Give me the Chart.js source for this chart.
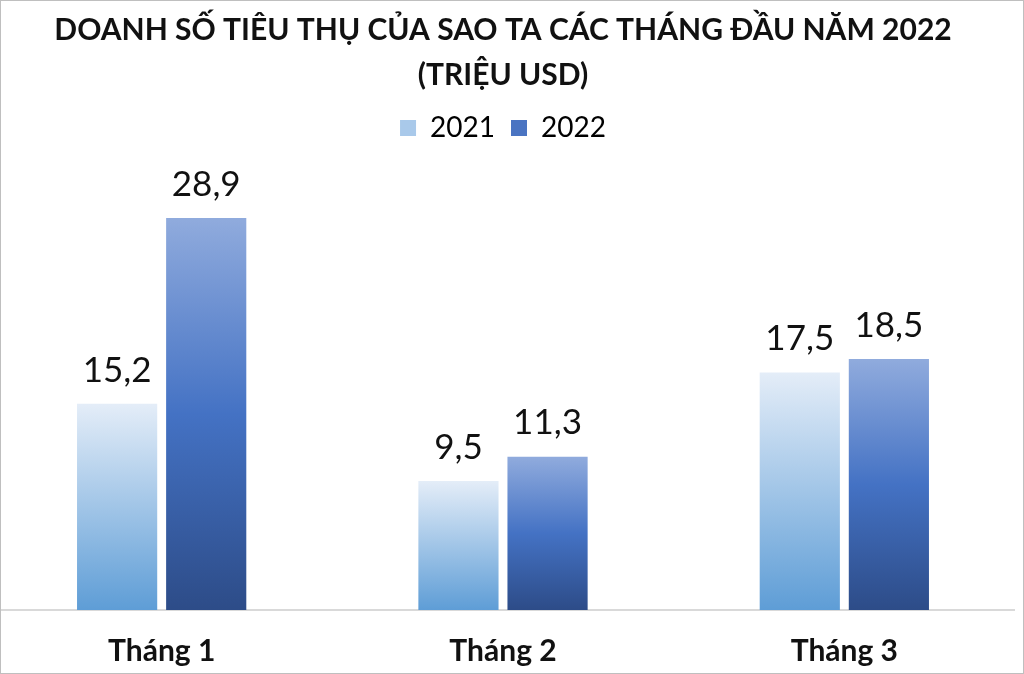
<!DOCTYPE html>
<html>
<head>
<meta charset="utf-8">
<script src="https://cdn.jsdelivr.net/npm/chart.js@4/dist/chart.umd.min.js"></script>
<style>
  html, body { margin: 0; padding: 0; background: #fff; }
  #wrap { position: relative; width: 1024px; height: 674px; overflow: hidden; }
  #wrap canvas { position: absolute; left: -9px; top: 0; }
  #frame { position: absolute; left: 0; top: 0; width: 1022px; height: 672px; border: 1px solid #bfbfbf; pointer-events: none; }
</style>
</head>
<body>
<div id="wrap">
  <canvas id="chart" width="1024" height="692"></canvas>
  <div id="frame"></div>
</div>
<script>
// ── Data ──────────────────────────────────────────────
const months  = ['Tháng 1', 'Tháng 2', 'Tháng 3'];
const years   = ['2021', '2022'];
const sales21 = [15.2, 9.5, 17.5];
const sales22 = [28.9, 11.3, 18.5];
const titleLines = ['DOANH SỐ TIÊU THỤ CỦA SAO TA CÁC THÁNG ĐẦU NĂM 2022', '(TRIỆU USD)'];

const FONT = "Lato, 'Open Sans', sans-serif";

// each bar gets its own top-to-bottom gradient
const stops = {
  '2021': [[0, '#e4edf8'], [1, '#5e9dd6']],
  '2022': [[0, '#90abdd'], [0.5, '#4472c4'], [1, '#2d4c88']],
};

function barGradient(key) {
  return function(ctx) {
    const chart = ctx.chart;
    const y = chart.scales && chart.scales.y;
    if (!y || ctx.raw == null) return stops[key][stops[key].length - 1][1];
    const top  = y.getPixelForValue(ctx.raw);
    const base = y.getPixelForValue(0);
    const g = chart.ctx.createLinearGradient(0, top, 0, base);
    stops[key].forEach(function(s) { g.addColorStop(s[0], s[1]); });
    return g;
  };
}

function fmt(v) { return String(v.toFixed(1)).replace('.', ','); }

const valueLabels = {
  id: 'valueLabels',
  afterDatasetsDraw(chart) {
    const c = chart.ctx;
    c.save();
    c.font = '35px ' + FONT;
    c.fillStyle = '#111';
    c.textAlign = 'center';
    c.textBaseline = 'bottom';
    chart.data.datasets.forEach(function(ds, i) {
      chart.getDatasetMeta(i).data.forEach(function(bar, j) {
        c.fillText(fmt(ds.data[j]), bar.x, bar.y - 16);
      });
    });
    c.restore();
  }
};

// extra room under the legend before the bars start
const legendGap = {
  id: 'legendGap',
  beforeInit(chart) {
    const fit = chart.legend.fit;
    chart.legend.fit = function() {
      fit.call(this);
      this.height += 51;
    };
  }
};

new Chart(document.getElementById('chart'), {
  type: 'bar',
  data: {
    labels: months,
    datasets: [
      { label: years[0], data: sales21, backgroundColor: barGradient('2021') },
      { label: years[1], data: sales22, backgroundColor: barGradient('2022') },
    ]
  },
  options: {
    responsive: false,
    animation: false,
    devicePixelRatio: 1,
    layout: { padding: { left: 0, right: 0, top: 0, bottom: 8 } },
    datasets: { bar: { categoryPercentage: 0.522, barPercentage: 0.9 } },
    plugins: {
      tooltip: { enabled: false },
      title: {
        display: true,
        text: titleLines,
        color: '#111',
        font: { family: FONT, size: 30, weight: 'bold', lineHeight: 1.5 },
        padding: { top: 8, bottom: 0 },
      },
      legend: {
        position: 'top',
        labels: {
          color: '#111',
          font: { family: FONT, size: 28 },
          boxWidth: 16,
          boxHeight: 16,
          padding: 16,
          generateLabels: function(chart) {
            const fills = ['#a9c9ea', '#4a74c2'];
            return years.map(function(y, i) {
              return { text: y, fillStyle: fills[i], strokeStyle: fills[i], lineWidth: 0, datasetIndex: i };
            });
          }
        }
      }
    },
    scales: {
      x: {
        grid: { display: false },
        border: { display: true, color: '#d9d9d9', width: 2 },
        ticks: { color: '#111', font: { family: FONT, size: 30, weight: 'bold' }, padding: 15 }
      },
      y: {
        display: false,
        min: 0,
        max: 30
      }
    }
  },
  plugins: [valueLabels, legendGap]
});
</script>
</body>
</html>
